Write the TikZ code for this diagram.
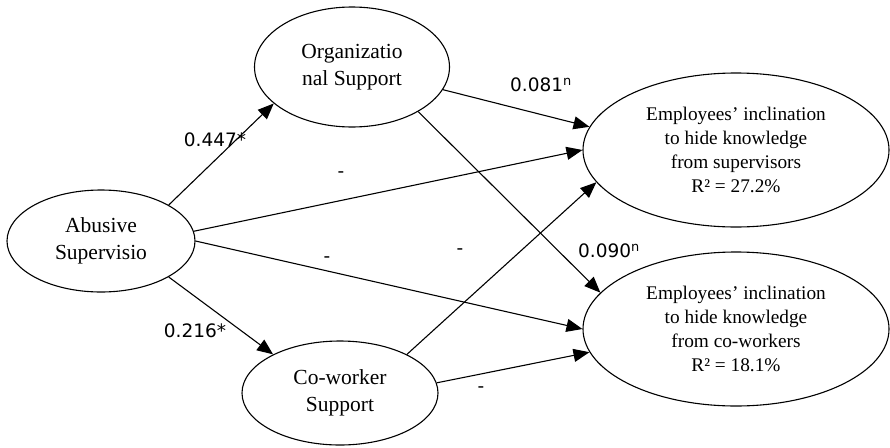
\documentclass[tikz,border=0pt]{standalone}
\usepackage{fontspec}
\setmainfont{Liberation Serif}
\newfontfamily\labelfont{DejaVu Sans}
\usetikzlibrary{shapes.geometric,arrows.meta}
\tikzset{
  construct/.style={draw, ellipse, line width=1.1pt, inner sep=0pt, align=center},
  leftvar/.style={construct, font=\fontsize{21.5}{27}\selectfont},
  outcome/.style={construct, font=\fontsize{19.3}{24}\selectfont},
  path/.style={line width=1.1pt, -{Triangle[length=16pt,width=13pt]}},
  coef/.style={font=\labelfont\fontsize{18.5}{22}\selectfont, inner sep=0pt},
}
\begin{document}
\begin{tikzpicture}[x=1pt,y=-1pt]
  \useasboundingbox (0,0) rectangle (890,447);

  % constructs
  \node[leftvar, minimum width=188pt, minimum height=102pt] (abs) at (101,241) {Abusive\\Supervisio};
  \node[leftvar, minimum width=195pt, minimum height=120pt] (org) at (352,67) {Organizatio\\nal Support};
  \node[leftvar, minimum width=196pt, minimum height=104pt] (cow) at (340,393) {Co-worker\\Support};
  \node[outcome, minimum width=306pt, minimum height=154pt] (sup) at (736,150)
    {Employees’ inclination\\to hide knowledge\\from supervisors\\R² = 27.2\%};
  \node[outcome, minimum width=306pt, minimum height=154pt] (cwk) at (736,329)
    {Employees’ inclination\\to hide knowledge\\from co-workers\\R² = 18.1\%};

  % structural paths
  \draw[path] (abs.28.6) -- (org.-155);
  \draw[path] (abs.-28.6) -- (cow.150.3);
  \draw[path] (org.-14.2) -- (sup.171);
  \draw[path] (org.-34.4) -- (cwk.165);
  \draw[path] (abs.6) -- (sup.180);
  \draw[path] (abs.0) -- (cwk.180);
  \draw[path] (cow.30.4) -- (sup.-167);
  \draw[path] (cow.6.5) -- (cwk.-171.2);

  % path coefficients
  \node[coef] (c1) at (215,140) {0.447*};
  \node[coef] (c2) at (195,331) {0.216*};
  \node[coef, anchor=east] (c3) at (572,85) {0.081\textsuperscript{n}};
  \node[coef] (c4) at (609,251) {0.090\textsuperscript{n}};
  \node[coef] (d1) at (341,175) {-};
  \node[coef] (d2) at (327,260) {-};
  \node[coef] (d3) at (460,252) {-};
  \node[coef] (d4) at (481,390) {-};
\end{tikzpicture}
\end{document}
